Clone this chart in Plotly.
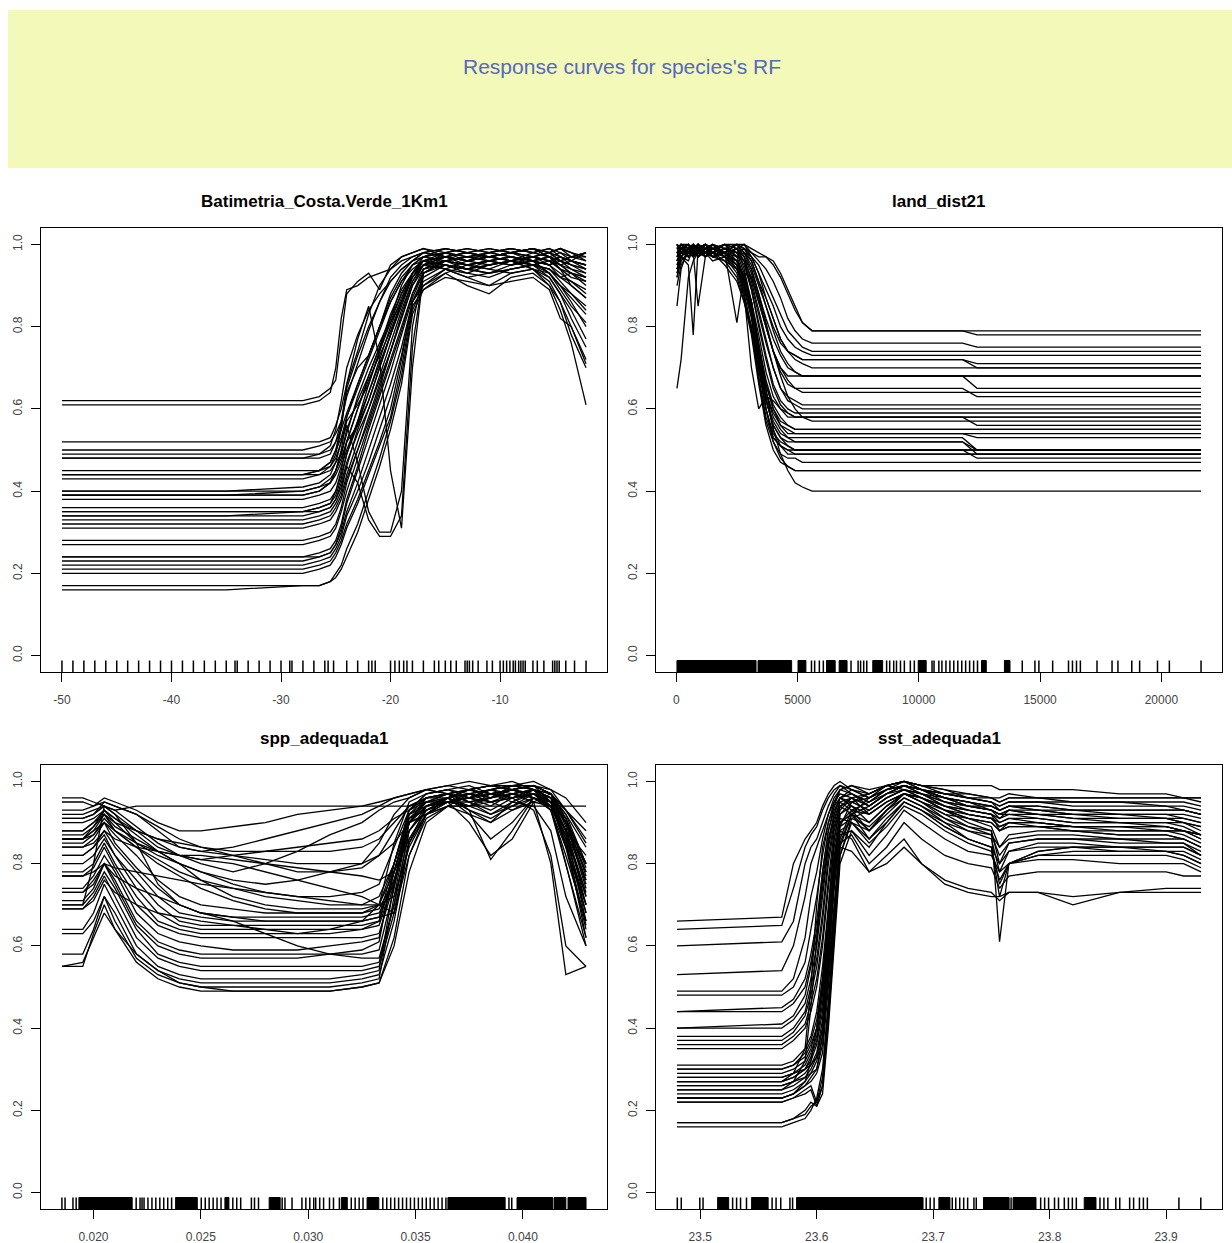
import plotly.graph_objects as go

MAIN_TITLE = "Response curves for species's RF"
PANEL_TITLES = ["Batimetria_Costa.Verde_1Km1", "land_dist21", "spp_adequada1", "sst_adequada1"]
Y_TICKS = [0, 0.2, 0.4, 0.6, 0.8, 1.0]
Y_TICKTEXT = ["0.0", "0.2", "0.4", "0.6", "0.8", "1.0"]

# ---------------- Panel 1 : Batimetria_Costa.Verde_1Km1 (response values in %)
bat_x = [-50, -35, -28, -26.5, -25.5, -25, -24.5, -24, -23, -22, -21, -20, -19, -18,
         -17, -15, -13, -11, -9, -7, -5.5, -4.5, -3.5, -2.15]
bat_y = [
    [62,62,62,63,65, 67,78,88,91,93, 89,95,97,98,99, 97,96,98,97,96, 93,90,88,85],
    [61,61,61,62,64, 70,82,89,90,92, 93,94,96,97,98, 99,98,97,98,99, 97,95,93,91],
    [52,52,52,52,53, 56,60,66,74,83, 90,94,97,98,99, 98,97,97,98,96, 97,94,90,87],
    [50,50,50,51,52, 54,57,63,71,79, 86,92,95,97,98, 97,96,95,96,97, 95,92,93,90],
    [49,49,49,49,50, 52,55,59,66,73, 80,88,93,96,97, 98,99,98,99,98, 99,97,96,95],
    [48,48,48,49,51, 55,62,70,78,84, 88,91,94,96,98, 99,98,97,96,97, 98,99,98,96],
    [45,45,45,45,47, 50,56,64,70,73, 80,87,92,95,96, 94,93,95,96,94, 90,86,80,72],
    [44,44,44,45,47, 50,53,58,65,72, 79,86,91,94,96, 97,98,97,96,98, 97,95,96,94],
    [44,44,44,45,46, 48,52,57,61,66, 74,82,90,95,97, 98,96,97,98,99, 98,96,97,98],
    [43,43,43,44,45, 47,49,54,63,70, 76,82,88,93,96, 95,94,93,95,96, 93,89,85,81],
    [40,40,40,41,43, 45,49,55,62,68, 75,83,89,93,95, 94,92,93,94,95, 94,92,90,87],
    [40,40,41,42,44, 47,52,56,47,35, 30,30,40,80,94, 96,95,94,96,97, 96,95,93,92],
    [39,39,40,41,42, 44,47,52,60,68, 75,81,86,92,95, 97,96,97,98,97, 98,97,96,95],
    [39,39,39,40,42, 45,50,58,66,73, 80,86,91,95,97, 96,94,95,96,94, 92,88,84,77],
    [38,38,38,39,40, 42,46,50,57,64, 71,78,85,92,95, 96,97,96,95,96, 97,96,95,93],
    [36,36,36,37,38, 40,44,49,56,64, 72,80,87,93,96, 97,98,99,98,97, 96,97,95,94],
    [35,35,35,35,36, 38,41,46,42,33, 29,29,34,75,93, 95,94,96,95,96, 95,93,91,89],
    [34,34,35,36,37, 39,43,49,57,66, 74,81,88,93,96, 97,95,96,97,95, 94,91,88,84],
    [34,34,34,35,36, 38,42,47,54,60, 67,74,82,90,95, 98,97,98,99,98, 99,98,97,96],
    [33,33,33,34,35, 37,40,46,55,62, 70,78,86,93,96, 95,94,93,94,95, 93,90,86,80],
    [32,32,32,33,34, 36,39,44,52,60, 68,76,84,91,95, 97,96,97,98,99, 97,96,97,97],
    [31,31,31,32,33, 35,38,43,50,57, 65,74,83,91,95, 96,97,98,97,96, 95,97,96,98],
    [28,28,28,29,30, 32,36,42,50,58, 66,74,82,90,94, 95,93,92,94,95, 92,88,82,75],
    [27,27,27,28,29, 31,35,40,48,56, 64,72,80,88,93, 96,97,96,95,97, 96,94,92,91],
    [24,24,24,25,26, 28,32,38,46,55, 63,71,79,88,94, 97,98,97,98,97, 98,99,98,97],
    [24,24,24,24,25, 27,30,35,42,50, 58,66,75,86,92, 95,94,95,96,95, 94,92,91,88],
    [22,22,22,23,24, 26,29,34,40,47, 55,63,73,86,91, 94,92,90,93,94, 91,86,78,70],
    [21,21,21,22,23, 25,28,32,38,45, 52,60,72,86,90, 93,90,88,92,93, 90,84,76,61],
    [20,20,20,21,22, 24,27,31,37,44, 51,58,70,85,89, 92,91,90,91,92, 89,82,80,71],
    [17,17,17,17,18, 20,22,26,32,40, 48,57,68,84,90, 94,96,97,96,95, 96,94,93,92],
    [16,16,17,17,18, 19,21,24,30,38, 46,55,66,83,89, 93,95,94,93,94, 93,90,87,83],
    [44,44,44,44,46, 49,55,66,77,85, 72,45,31,70,93, 96,95,96,97,96, 97,95,94,93],
    [39,39,39,40,42, 45,48,52,56,62, 70,78,86,93,97, 99,98,99,98,99, 98,99,97,98],
    [35,35,35,36,37, 40,45,52,60,67, 73,79,86,92,96, 98,99,98,99,98, 97,98,96,95],
    [23,23,23,24,25, 27,31,37,45,53, 61,69,78,87,93, 96,95,96,97,96, 95,96,95,94],
    [48,48,48,48,49, 52,57,65,73,80, 86,91,94,96,98, 97,96,97,98,99, 98,96,94,92],
]
bat_rug = [-50, -49, -48, -47, -46, -45, -44, -43, -42, -41, -40, -39, -38, -37, -36, -35,
           -34.2, -34, -33, -32, -31, -30, -29.2, -29, -28, -27, -26, -25.7, -25.2, -24, -23,
           -22, -21.7, -21.4, -20, -19.6, -19.2, -18.8, -18.5, -18, -17, -16, -15.6, -15,
           -14.5, -14, -13.2, -13, -12.8, -12.5, -12, -11.2, -10.7, -10, -9.7, -9.4, -9.1,
           -8.8, -8.6, -8.3, -8.1, -7.9, -7.7, -7, -6.6, -6, -5.2, -5.0, -4.8, -4.6, -4,
           -3.2, -2.15]
bat_rug_blocks = []
bat_ticks = [-50, -40, -30, -20, -10]
bat_ticktext = ["-50", "-40", "-30", "-20", "-10"]

# ---------------- Panel 2 : land_dist21
land_x = [30, 200, 500, 700, 900, 1200, 1500, 2000, 2500, 2800, 3100, 3400, 3700, 4000,
          4300, 4600, 4900, 5200, 5600, 6000, 11800, 12400, 21635]
land_y = [
    [97,99,100,99,100, 98,99,100,100,100, 99,98,97,95,92, 88,84,81,79,79, 79,79,79],
    [95,98,99,100,99, 100,98,99,100,99, 98,97,97,96,93, 89,85,81,79,79, 79,78,78],
    [99,100,100,99,98, 100,99,100,99,100, 98,96,94,91,87, 82,79,77,76,76, 76,75,75],
    [93,97,99,98,100, 99,98,99,100,98, 97,95,91,87,83, 79,77,75,74,74, 74,74,74],
    [100,99,98,100,99, 100,99,98,100,99, 97,93,89,85,80, 77,75,74,73,73, 73,73,73],
    [96,98,97,99,100, 98,97,99,98,99, 96,91,87,82,77, 74,73,72,72,72, 72,71,71],
    [98,100,99,97,99, 100,98,97,99,100, 97,93,87,82,77, 74,72,71,70,70, 70,70,70],
    [90,95,98,100,97, 99,100,98,97,98, 95,90,85,80,76, 74,73,72,72,72, 72,70,70],
    [99,100,98,99,100, 97,98,100,99,97, 94,88,82,77,73, 70,69,68,68,68, 68,68,68],
    [94,97,96,99,98, 100,99,98,100,98, 96,91,85,79,74, 71,69,68,68,68, 68,68,68],
    [100,98,99,100,99, 98,100,99,98,96, 92,86,80,74,70, 68,68,68,68,68, 68,65,65],
    [97,99,100,98,99, 100,97,98,99,97, 93,87,80,74,70, 67,65,64,64,64, 64,64,64],
    [92,96,98,99,97, 99,98,100,97,98, 94,88,81,74,69, 66,65,65,65,65, 65,63,63],
    [98,99,97,100,98, 99,100,97,99,96, 90,83,76,70,65, 63,62,61,61,61, 61,61,61],
    [95,97,99,98,100, 97,99,98,100,97, 91,84,77,70,65, 62,61,60,60,60, 60,60,60],
    [100,99,98,99,97, 100,98,99,98,95, 89,81,73,66,62, 60,59,59,59,59, 59,59,59],
    [96,98,100,97,99, 98,99,100,97,96, 89,80,72,65,61, 59,58,58,58,58, 58,58,58],
    [99,100,97,98,100, 99,97,98,99,94, 86,78,69,63,60, 58,58,58,58,58, 58,56,56],
    [94,97,99,100,98, 97,100,99,98,93, 86,76,67,61,58, 56,55,55,55,55, 55,55,55],
    [98,99,98,99,100, 98,99,97,96,92, 85,74,66,60,57, 56,55,55,55,55, 55,55,55],
    [100,98,99,97,98, 100,99,98,96,91, 84,72,64,59,56, 55,54,54,54,54, 54,54,54],
    [97,99,100,98,99, 97,98,99,97,92, 86,75,66,60,56, 54,54,54,54,54, 54,53,53],
    [93,96,98,99,97, 99,100,98,96,92, 86,74,64,58,55, 53,53,53,53,53, 53,50,50],
    [99,100,98,97,99, 98,99,97,95,90, 84,72,62,57,54, 53,52,52,52,52, 52,50,50],
    [96,98,99,100,98, 99,97,98,95,90, 83,71,62,56,53, 52,52,52,52,52, 52,49,49],
    [100,99,97,98,99, 100,98,96,94,89, 82,70,60,54,52, 51,50,50,50,50, 50,50,50],
    [94,97,99,98,100, 97,98,99,96,91, 85,73,62,56,53, 51,50,50,50,50, 50,50,50],
    [98,100,99,97,98, 99,100,98,95,90, 83,70,60,53,51, 50,49,49,49,49, 49,49,49],
    [65,72,92,96,98, 99,97,98,96,92, 86,74,63,55,51, 49,49,49,49,49, 49,49,49],
    [97,99,100,98,99, 97,99,98,94,88, 80,68,58,53,51, 50,50,50,50,50, 50,48,48],
    [99,98,99,100,97, 98,99,97,93,87, 79,67,57,52,49, 48,48,47,47,47, 47,47,47],
    [96,99,98,99,100, 98,97,96,92,86, 78,66,56,50,47, 46,45,45,45,45, 45,45,45],
    [98,97,99,98,99, 100,98,95,91,86, 80,70,60,52,48, 46,45,45,45,45, 45,45,45],
    [100,99,98,97,99, 98,96,97,94,90, 85,76,65,55,49, 45,42,41,40,40, 40,40,40],
    [92,97,95,78,99, 97,99,98,95,88, 70,60,63,62,60, 59,58,58,58,58, 58,58,58],
    [85,94,99,98,85, 97,99,98,81,93, 92,86,80,74,68, 63,60,58,57,57, 57,57,57],
]
land_rug = [5575, 5706, 5900, 6064, 7206, 7498, 7600, 7728, 7855, 8673, 8800, 8965, 9080,
            9244, 9404, 9651, 9815, 10546, 10628, 10826, 10953, 11118, 11282, 11442, 11607,
            11771, 11931, 12095, 12260, 12420, 14265, 14787, 14951, 15518, 16171, 16335,
            16500, 16660, 17346, 17966, 18209, 18780, 19104, 19840, 20329, 21635]
land_rug_blocks = [(30, 3290), (3373, 4757), (5020, 5345), (6195, 6553), (6717, 7042),
                   (8102, 8509), (9975, 10304), (12584, 12782), (13529, 13759)]
land_ticks = [0, 5000, 10000, 15000, 20000]
land_ticktext = ["0", "5000", "10000", "15000", "20000"]

# ---------------- Panel 3 : spp_adequada1
spp_x = [0.01853, 0.0195, 0.0200, 0.0205, 0.0210, 0.0220, 0.0230, 0.0240, 0.0250, 0.0265,
         0.0280, 0.0295, 0.0310, 0.0325, 0.0333, 0.0340, 0.0347, 0.0355, 0.0365, 0.0375,
         0.0385, 0.0395, 0.0405, 0.0413, 0.0420, 0.04294]
spp_y = [
    [96,96,95,94,93, 94,94,94,94,94, 94,94,94,94,94, 94,94,95,95,94, 94,94,94,94,94, 94],
    [95,95,94,96,95, 93,90,88,88,89, 90,92,93,94,95, 96,97,98,99,98, 97,98,99,98,96, 90],
    [93,93,94,95,94, 92,88,84,83,84, 86,88,90,92,94, 96,97,98,99,100, 99,98,99,95,88, 82],
    [92,92,93,94,93, 89,85,82,80,78, 80,83,87,90,93, 95,96,98,97,96, 95,97,98,96,90, 78],
    [91,91,92,94,92, 88,84,82,81,82, 83,84,85,86,88, 91,93,95,97,98, 96,98,99,97,92, 80],
    [90,90,91,93,91, 87,83,80,78,76, 75,76,78,80,85, 92,96,98,97,95, 96,99,100,98,93, 85],
    [88,88,90,93,90, 85,82,80,78,75, 73,72,72,73,75, 84,93,97,98,96, 94,97,98,97,93, 86],
    [87,87,89,92,88, 84,81,78,76,74, 72,71,70,70,72, 80,92,96,97,98, 97,96,97,94,88, 73],
    [86,86,88,92,89, 86,83,80,76,72, 70,69,69,69,70, 78,90,95,96,94, 92,94,96,95,90, 76],
    [86,86,87,91,88, 84,80,77,74,71, 69,68,68,68,70, 85,95,97,98,97, 95,96,97,96,88, 72],
    [86,86,88,90,87, 82,76,72,70,69, 68,68,68,68,69, 76,88,94,95,96, 98,99,99,97,91, 77],
    [85,85,87,90,85, 79,74,70,68,67, 67,67,67,67,68, 75,90,96,97,93, 90,95,98,97,89, 70],
    [84,84,85,88,84, 78,72,68,67,66, 66,66,66,66,67, 80,92,94,96,98, 99,98,96,94,86, 70],
    [82,82,84,87,82, 76,70,66,65,65, 65,65,65,65,66, 78,91,93,95,96, 97,98,97,95,90, 74],
    [80,80,82,86,82, 74,68,65,64,64, 64,64,64,64,65, 76,90,92,94,92, 90,93,96,94,87, 68],
    [78,78,80,85,80, 72,66,64,63,63, 63,63,64,66,70, 80,93,97,98,99, 97,98,99,97,90, 75],
    [77,77,79,84,79, 70,65,63,62,62, 62,62,62,62,63, 75,90,92,94,97, 98,96,97,95,85, 65],
    [74,74,77,82,78, 68,63,61,60,59, 59,59,60,61,62, 78,92,95,97,95, 93,96,98,96,90, 78],
    [73,73,76,80,76, 66,61,59,58,58, 58,58,58,58,59, 74,90,94,96,97, 98,99,98,96,88, 66],
    [71,71,74,80,75, 65,60,58,57,57, 57,57,58,59,61, 80,93,96,96,93, 91,94,97,95,86, 62],
    [70,70,73,78,74, 64,58,56,55,55, 55,55,55,55,56, 70,88,93,95,96, 98,99,98,95,84, 64],
    [69,69,72,77,72, 62,57,55,54,54, 54,54,54,54,55, 68,86,92,95,97, 96,97,98,94,80, 60],
    [64,64,68,75,70, 60,55,53,52,52, 52,52,52,53,54, 75,91,95,96,92, 86,90,96,93,80, 62],
    [63,63,66,72,68, 58,54,52,51,51, 51,51,51,52,53, 66,85,92,95,96, 97,95,94,88,72, 60],
    [58,58,64,72,66, 57,53,51,50,50, 50,50,50,51,52, 72,90,94,95,95, 96,98,97,93,82, 66],
    [55,55,63,70,64, 56,52,50,49,49, 49,49,49,50,51, 62,82,91,94,94, 95,96,93,82,60, 55],
    [55,56,62,68,64, 58,54,51,50,49, 49,49,49,50,51, 60,78,90,94,94, 96,97,95,80,53, 55],
    [70,70,80,94,92, 85,75,70,68,67, 66,66,66,66,67, 68,82,92,96,98, 99,98,96,94,88, 80],
    [86,86,89,93,91, 88,86,85,84,83, 83,83,83,84,86, 90,94,96,97,98, 99,100,98,93,84, 70],
    [88,88,90,92,90, 88,86,84,83,82, 81,80,80,80,82, 85,90,94,95,90, 82,86,95,97,93, 88],
    [91,91,92,95,94, 92,89,86,84,82, 80,78,78,79,82, 88,94,96,97,95, 92,95,97,95,91, 80],
    [82,82,84,88,86, 84,83,82,82,81, 80,79,78,77,76, 78,86,93,96,98, 99,99,98,96,92, 84],
    [77,77,78,80,79, 78,77,76,75,74, 73,72,71,70,70, 72,84,92,96,94, 97,98,99,97,91, 79],
    [69,69,71,76,73, 70,68,67,66,65, 64,63,63,64,66, 78,90,94,96,97, 95,93,95,94,87, 72],
    [73,73,75,80,77, 74,72,70,68,66, 63,60,58,57,57, 70,88,93,95,96, 98,97,96,94,85, 68],
    [84,84,86,90,88, 85,83,82,81,80, 78,76,74,72,70, 68,85,94,96,93, 81,88,96,94,88, 76],
]
spp_rug = [0.018528, 0.018674, 0.019042, 0.019191, 0.021986, 0.022167, 0.022260, 0.022353,
           0.022535, 0.022721, 0.022902, 0.023088, 0.023270, 0.023456, 0.023637, 0.025018,
           0.025204, 0.025386, 0.025572, 0.025753, 0.025939, 0.026488, 0.026670, 0.026855,
           0.027353, 0.027498, 0.027684, 0.028786, 0.028916, 0.029246, 0.029707, 0.029889,
           0.030074, 0.030256, 0.030349, 0.030535, 0.030716, 0.030991, 0.031177, 0.031451,
           0.032005, 0.032186, 0.032372, 0.032553, 0.033474, 0.033658, 0.033842, 0.034026,
           0.034210, 0.034394, 0.034578, 0.034762, 0.034946, 0.035130, 0.035314, 0.035498,
           0.035682, 0.035866, 0.036050, 0.036234, 0.036414, 0.039350, 0.039480]
spp_rug_blocks = [(0.019319, 0.021800), (0.023823, 0.024833), (0.026120, 0.026306),
                  (0.028181, 0.028693), (0.031544, 0.031819), (0.032740, 0.033288),
                  (0.036507, 0.039172), (0.039726, 0.041381), (0.041450, 0.042000),
                  (0.042100, 0.042940)]
spp_ticks = [0.020, 0.025, 0.030, 0.035, 0.040]
spp_ticktext = ["0.020", "0.025", "0.030", "0.035", "0.040"]

# ---------------- Panel 4 : sst_adequada1
sst_x = [23.48, 23.57, 23.58, 23.59, 23.595, 23.60, 23.605, 23.61, 23.615, 23.62, 23.63,
         23.645, 23.66, 23.675, 23.69, 23.71, 23.73, 23.75, 23.757, 23.765, 23.79, 23.82,
         23.86, 23.90, 23.915, 23.93]
sst_y = [
    [66,67,80,86,88, 90,94,97,99,100, 98,96,99,98,97, 96,95,94,93,94, 93,92,91,91,90, 88],
    [64,65,74,84,87, 89,93,96,98,99, 97,94,97,99,98, 97,97,96,96,97, 96,95,95,94,93, 92],
    [60,61,66,80,84, 86,90,94,97,99, 98,96,98,99,98, 96,95,93,91,93, 92,91,90,90,90, 89],
    [53,54,60,72,80, 84,88,92,96,98, 97,95,97,98,96, 94,93,92,88,90, 89,88,87,87,86, 84],
    [49,49,52,62,72, 78,86,92,95,98, 99,97,99,100,98, 95,94,93,92,92, 91,90,90,89,88, 87],
    [48,48,50,56,64, 72,82,90,95,97, 96,92,95,97,96, 93,90,88,80,85, 86,86,85,85,85, 83],
    [44,45,47,52,58, 66,78,88,94,98, 99,98,99,100,99, 98,97,96,95,96, 96,96,96,96,96, 95],
    [44,44,46,50,56, 64,76,86,92,96, 95,93,96,98,97, 95,93,92,90,91, 90,89,89,88,88, 86],
    [40,41,43,48,55, 62,74,85,92,96, 94,90,94,97,95, 92,91,89,84,87, 88,88,87,87,86, 84],
    [40,40,42,46,52, 60,72,84,91,95, 96,94,97,99,98, 96,94,94,93,94, 93,93,92,92,92, 91],
    [38,38,40,44,50, 57,68,82,90,95, 93,88,93,96,94, 91,88,86,78,83, 85,85,84,84,84, 82],
    [37,37,39,43,48, 55,66,80,89,94, 95,93,96,98,97, 95,94,93,92,93, 93,92,92,92,91, 90],
    [36,36,38,41,46, 52,62,76,88,94, 92,86,90,95,93, 89,86,84,75,80, 82,83,83,83,82, 80],
    [35,35,37,40,44, 50,60,74,86,93, 96,97,99,100,99, 98,96,95,94,95, 95,94,94,94,94, 93],
    [31,31,32,35,38, 44,55,70,84,92, 94,92,95,97,96, 94,92,91,89,90, 90,89,89,89,88, 87],
    [30,30,31,34,37, 42,52,68,82,91, 90,86,91,95,93, 90,88,87,82,85, 86,86,86,85,85, 82],
    [29,29,30,32,35, 40,50,66,80,90, 93,92,95,97,96, 93,91,90,88,89, 89,89,88,88,88, 86],
    [28,28,29,31,34, 38,48,64,79,90, 92,88,92,96,94, 90,86,84,72,80, 83,84,84,84,84, 82],
    [27,27,28,30,33, 37,46,62,78,89, 91,89,93,97,95, 92,89,87,84,86, 87,87,86,86,86, 84],
    [27,27,28,30,32, 36,44,60,77,89, 95,97,99,100,98, 96,95,94,93,94, 94,93,93,93,93, 92],
    [26,26,27,29,31, 34,42,58,76,88, 90,85,89,94,92, 88,85,83,76,80, 82,82,82,82,81, 79],
    [25,25,26,28,30, 33,40,56,74,87, 88,82,87,93,90, 86,83,82,78,80, 81,81,80,80,80, 78],
    [24,24,25,27,29, 32,38,54,72,86, 93,95,98,99,97, 94,93,92,91,92, 92,91,91,91,90, 89],
    [23,23,24,26,28, 30,36,52,70,85, 87,80,84,90,86, 82,80,79,74,77, 78,78,78,78,77, 77],
    [23,23,24,26,27, 29,34,50,68,84, 83,78,82,86,80, 75,73,72,72,73, 73,70,73,73,73, 73],
    [22,22,23,25,26, 22,28,46,66,84, 92,94,97,99,97, 94,92,91,89,90, 90,89,89,89,88, 87],
    [22,22,23,24,25, 21,26,44,64,82, 90,88,93,97,95, 91,89,88,61,80, 83,84,83,83,82, 80],
    [17,17,18,20,22, 21,24,40,60,80, 88,84,90,95,93, 89,86,84,80,83, 84,84,84,83,83, 81],
    [17,17,18,19,21, 22,26,42,62,82, 91,93,96,98,96, 93,91,90,88,89, 89,88,88,88,87, 85],
    [16,16,17,18,20, 23,30,46,66,85, 92,96,98,99,98, 97,96,96,95,96, 96,96,96,96,96, 96],
    [27,27,29,35,50, 70,84,90,94,96, 98,97,99,100,99, 97,96,95,94,95, 95,95,95,95,95, 94],
    [25,25,27,32,45, 62,78,88,93,96, 97,95,98,99,98, 97,96,95,93,94, 94,93,93,93,93, 92],
    [23,23,24,27,32, 40,52,70,86,94, 96,94,97,99,98, 96,94,93,92,93, 92,92,92,91,91, 90],
    [26,26,27,28,29, 30,38,55,75,88, 86,78,80,84,80, 76,74,73,71,73, 73,72,73,74,74, 74],
    [28,28,29,30,31, 33,40,60,80,92, 95,96,98,100,99, 99,99,99,98,98, 98,98,97,97,96, 96],
    [30,30,31,33,36, 40,50,64,80,90, 92,90,94,97,95, 93,92,91,90,91, 91,90,90,90,89, 87],
]
sst_rug = [23.4803, 23.4837, 23.4996, 23.5024, 23.5278, 23.5312, 23.5346, 23.5397, 23.5617,
           23.5651, 23.5691, 23.5770, 23.5793, 23.6940, 23.6974, 23.7008, 23.7164, 23.7194,
           23.7228, 23.7262, 23.7296, 23.7350, 23.7370, 23.7669, 23.7923, 23.7957, 23.7991,
           23.8042, 23.8076, 23.8126, 23.8161, 23.8195, 23.8229, 23.8432, 23.8466, 23.8500,
           23.8568, 23.8602, 23.8687, 23.8721, 23.8771, 23.8805, 23.8839, 23.9110, 23.9298]
sst_rug_blocks = [(23.5149, 23.5244), (23.5441, 23.5583), (23.5827, 23.6913),
                  (23.7049, 23.7144), (23.7432, 23.7652), (23.7686, 23.7883),
                  (23.8297, 23.8398)]
sst_ticks = [23.5, 23.6, 23.7, 23.8, 23.9]
sst_ticktext = ["23.5", "23.6", "23.7", "23.8", "23.9"]

# ---------------- figure
W, H = 1232, 1243
FONT = "Liberation Sans, Arial, Helvetica, sans-serif"
panels = [
    (bat_x, bat_y, bat_rug, bat_rug_blocks, bat_ticks, bat_ticktext),
    (land_x, land_y, land_rug, land_rug_blocks, land_ticks, land_ticktext),
    (spp_x, spp_y, spp_rug, spp_rug_blocks, spp_ticks, spp_ticktext),
    (sst_x, sst_y, sst_rug, sst_rug_blocks, sst_ticks, sst_ticktext),
]
# plot boxes in pixels (left, right, top, bottom)
boxes = [(41, 607, 228, 672), (656, 1222, 228, 672), (41, 607, 765, 1209), (656, 1222, 765, 1209)]
RUG_BOTTOM, RUG_TOP = -0.04, -0.012

fig = go.Figure()
layout = dict(width=W, height=H, autosize=False, margin=dict(l=0, r=0, t=0, b=0),
              paper_bgcolor="white", plot_bgcolor="white", showlegend=False,
              shapes=[], annotations=[])

for i, (xg, curves, rug, blocks, tv, tt) in enumerate(panels):
    sfx = "" if i == 0 else str(i + 1)
    xa, ya = "x" + sfx, "y" + sfx
    xs, ys = [], []
    for c in curves:
        for xv, yv in zip(xg, c):
            xs.append(xv)
            ys.append(yv / 100.0)
        xs.append(None)
        ys.append(None)
    fig.add_trace(go.Scatter(x=xs, y=ys, mode="lines", line=dict(color="black", width=1.3),
                             xaxis=xa, yaxis=ya, hoverinfo="skip"))
    rx, ry = [], []
    for v in rug:
        rx += [v, v, None]
        ry += [RUG_BOTTOM, RUG_TOP, None]
    fig.add_trace(go.Scatter(x=rx, y=ry, mode="lines", line=dict(color="black", width=1.5),
                             xaxis=xa, yaxis=ya, hoverinfo="skip"))
    if blocks:
        bx, by = [], []
        for a, b in blocks:
            bx += [a, b, b, a, a, None]
            by += [RUG_BOTTOM, RUG_BOTTOM, RUG_TOP, RUG_TOP, RUG_BOTTOM, None]
        fig.add_trace(go.Scatter(x=bx, y=by, mode="lines", fill="toself", fillcolor="black",
                                 line=dict(color="black", width=1),
                                 xaxis=xa, yaxis=ya, hoverinfo="skip"))
    lo, hi = min(xg), max(xg)
    pad = 0.04 * (hi - lo)
    l, r, t, b = boxes[i]
    common = dict(showline=True, linecolor="black", linewidth=1, mirror=True,
                  ticks="outside", ticklen=9, tickwidth=1, tickcolor="black",
                  showgrid=False, zeroline=False,
                  tickfont=dict(family=FONT, size=12, color="#444444"))
    layout["xaxis" + sfx] = dict(domain=[l / W, r / W], range=[lo - pad, hi + pad],
                                 tickvals=tv, ticktext=tt, anchor=ya, ticklabelstandoff=8,
                                 **common)
    layout["yaxis" + sfx] = dict(domain=[1 - b / H, 1 - t / H], range=[-0.04, 1.04],
                                 tickvals=Y_TICKS, ticktext=Y_TICKTEXT, tickangle=-90,
                                 anchor=xa, ticklabelstandoff=4, **common)
    layout["annotations"].append(dict(
        text="<b>" + PANEL_TITLES[i] + "</b>", x=(l + r) / 2 / W, y=1 - (t - 27) / H,
        xref="paper", yref="paper", showarrow=False, xanchor="center", yanchor="middle",
        font=dict(family=FONT, size=17, color="black")))

layout["shapes"].append(dict(type="rect", xref="paper", yref="paper",
                             x0=8 / W, x1=1, y0=1 - 168 / H, y1=1 - 10 / H,
                             fillcolor="#F3F9B8", line=dict(width=0), layer="below"))
layout["annotations"].append(dict(
    text=MAIN_TITLE, x=622 / W, y=1 - 67 / H, xref="paper", yref="paper", showarrow=False,
    xanchor="center", yanchor="middle", font=dict(family=FONT, size=21, color="#5567C2")))

fig.update_layout(**layout)
fig.write_html("out.html", config={"displayModeBar": False},
               post_script="document.body.style.margin='0';")
